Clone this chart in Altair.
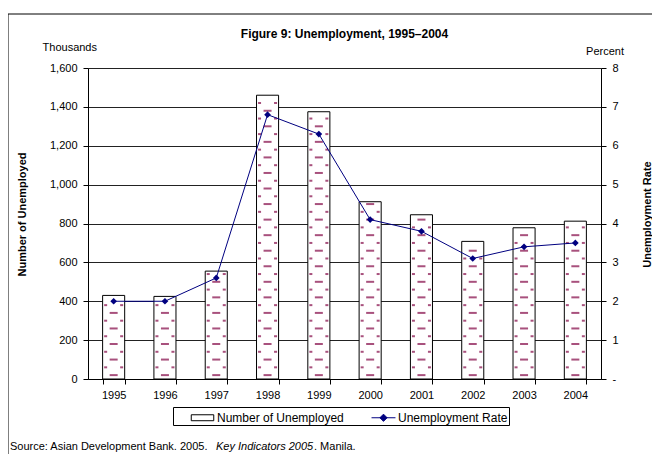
import altair as alt
import pandas as pd

# ---------------- data ----------------
years = ["1995", "1996", "1997", "1998", "1999", "2000", "2001", "2002", "2003", "2004"]
unemployed = [430, 425, 555, 1460, 1375, 912, 845, 708, 778, 812]   # thousands
rate = [2.0, 2.0, 2.6, 6.8, 6.3, 4.1, 3.8, 3.1, 3.4, 3.5]           # percent
left_ticks = [0, 200, 400, 600, 800, 1000, 1200, 1400, 1600]
right_ticks = [0, 1, 2, 3, 4, 5, 6, 7, 8]

TITLE = "Figure 9: Unemployment, 1995–2004"
SER_BAR = "Number of Unemployed"
SER_LINE = "Unemployment Rate"
FONT = "Liberation Sans"
MAROON = "#993366"
NAVY = "#000080"

df = pd.DataFrame({"year": years, "unemployed": unemployed, "rate": rate})

# dash pattern rows inside each bar (derived from bar heights)
STEP = 40
rows = []
for yr, v in zip(years, unemployed):
    k = 0
    while (k + 0.5) * STEP <= v - 12:
        rows.append({"year": yr, "yy": (k + 0.5) * STEP, "kind": "c" if k % 2 == 0 else "e"})
        k += 1
pat = pd.DataFrame(rows)

# ---------------- axes / scales ----------------
x_axis = alt.Axis(title=None, labelAngle=0, tickBand="extent", tickSize=5, tickColor="black",
                  domainColor="black", labelFont=FONT, labelFontSize=11, labelColor="black",
                  labelPadding=5, grid=False)
x_enc = alt.X("year:N", sort=years, axis=x_axis,
              scale=alt.Scale(paddingInner=0.57, paddingOuter=0.285))

left_axis = alt.Axis(title="Number of Unemployed", values=left_ticks, format=",.0f",
                     labelFont=FONT, labelFontSize=11, labelColor="black", labelPadding=6,
                     tickSize=5, tickColor="black", domainColor="black",
                     grid=True, gridColor="#222222", gridWidth=1,
                     titleFont=FONT, titleFontSize=11, titleFontWeight="bold", titleColor="black",
                     titleAngle=-90, titleX=-66, titleY=146, titleAlign="center",
                     titleBaseline="middle")
right_axis = alt.Axis(title="Unemployment Rate", values=right_ticks, orient="right",
                      format=".0f", labelExpr="datum.value == 0 ? '-' : datum.label",
                      labelFont=FONT, labelFontSize=11, labelColor="black", labelPadding=6,
                      tickSize=5, tickColor="black", domainColor="black", grid=False,
                      titleFont=FONT, titleFontSize=11, titleFontWeight="bold", titleColor="black",
                      titleAngle=-90, titleX=46, titleY=146, titleAlign="center",
                      titleBaseline="middle")
y_left = dict(scale=alt.Scale(domain=[0, 1600]), axis=left_axis)
y_right = dict(scale=alt.Scale(domain=[0, 8]), axis=right_axis)

legend_def = alt.Legend(
    title=None, orient="none", legendX=85, legendY=339, direction="horizontal",
    strokeColor="black", padding=1, labelFont=FONT, labelFontSize=12, labelColor="black",
    symbolSize=324, symbolOffset=19, labelOffset=5, columnPadding=11, symbolStrokeWidth=1,
)
series_dom = [SER_BAR, SER_LINE]
shape_scale = alt.Scale(domain=series_dom,
                        range=["M-1.25,-0.33H1.25V0.33H-1.25Z",
                               "M-1.33,0H1.33M0,-0.4L0.4,0L0,0.4L-0.4,0Z"])
fill_scale = alt.Scale(domain=series_dom, range=["white", NAVY])
stroke_scale = alt.Scale(domain=series_dom, range=["black", NAVY])

# ---------------- bars with dash pattern ----------------
bars = alt.Chart(df).mark_bar(fill="white", stroke="black", strokeWidth=1).encode(
    x=x_enc, y=alt.Y("unemployed:Q", **y_left),
)

def dashes(kind, size, xoff):
    return alt.Chart(pat).transform_filter(f"datum.kind == '{kind}'").mark_tick(
        color=MAROON, thickness=2, size=size, orient="horizontal", xOffset=xoff, opacity=0.85
    ).encode(x=x_enc, y=alt.Y("yy:Q", **y_left))

bar_layer = alt.layer(bars, dashes("c", 8, 0), dashes("e", 3, -8), dashes("e", 3, 8))

# ---------------- rate line ----------------
line = alt.Chart(df).mark_line(strokeWidth=1, color=NAVY).encode(
    x=x_enc, y=alt.Y("rate:Q", **y_right),
)
points = alt.Chart(df).mark_point(shape="diamond", filled=True, size=45, color=NAVY, opacity=1).encode(
    x=x_enc, y=alt.Y("rate:Q", **y_right),
)
# legend carrier: draws no rows, legend built from explicit scale domains
legend_layer = alt.Chart(df).transform_filter("false").transform_calculate(
    series=f"'{SER_LINE}'"
).mark_point(filled=True, opacity=1, strokeWidth=1).encode(
    x=x_enc, y=alt.Y("rate:Q", **y_right),
    shape=alt.Shape("series:N", scale=shape_scale, legend=legend_def),
    fill=alt.Fill("series:N", scale=fill_scale, legend=legend_def),
    stroke=alt.Stroke("series:N", scale=stroke_scale, legend=legend_def),
)
line_layer = alt.layer(line, points, legend_layer)

# ---------------- annotations (frame and text) ----------------
ann = pd.DataFrame({"k": [0]})
frame_left = alt.Chart(ann).mark_rule(color="black", strokeWidth=1).encode(
    x=alt.value(-80), y=alt.value(-54), y2=alt.value(420))
frame_top = alt.Chart(ann).mark_rule(color="black", strokeWidth=1).encode(
    x=alt.value(-80), x2=alt.value(600), y=alt.value(-54))

def txt(s, x, y, size=11, align="left", style="normal", weight="normal"):
    return alt.Chart(ann).mark_text(
        text=s, font=FONT, fontSize=size, align=align, baseline="middle",
        fontStyle=style, fontWeight=weight, color="black"
    ).encode(x=alt.value(x), y=alt.value(y))

title = txt(TITLE, 256.5, -34, size=12, align="center", weight="bold")
thousands = txt("Thousands", 9, -20, size=11, align="right")
percent = txt("Percent", 536, -16, size=11, align="right")
src1 = txt("Source: Asian Development Bank. 2005.", -78, 379, size=11)
src2 = txt("Key Indicators 2005", 128, 379, size=11, style="italic")
src3 = txt(". Manila.", 226, 379, size=11)

chart = alt.layer(
    bar_layer, line_layer, frame_left, frame_top, title, thousands, percent, src1, src2, src3
).resolve_scale(y="independent").properties(
    width=513, height=311,
    autosize=alt.AutoSizeParams(type="none"),
    padding={"left": 80, "top": 60, "right": 51, "bottom": 75},
).configure_view(stroke=None).configure(background="white")

chart.save("out.html", embed_options={"renderer": "svg", "actions": False})
